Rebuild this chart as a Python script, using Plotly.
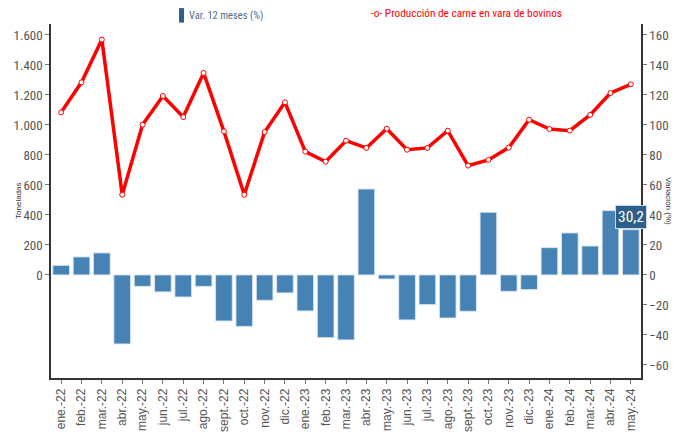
import plotly.graph_objects as go

months = ["ene.", "feb.", "mar.", "abr.", "may.", "jun.", "jul.", "ago.", "sept.", "oct.", "nov.", "dic."]
categories = [f"{m}-{y}" for y in ["22", "23"] for m in months] + [f"{m}-24" for m in months[:5]]

produccion = [1084, 1284, 1569, 535, 1002, 1193, 1053, 1347, 957, 535, 953, 1151,
              822, 755, 895, 847, 975, 835, 847, 962, 729, 767, 849, 1035,
              973, 962, 1067, 1213, 1271]
variacion = [6.4, 12.0, 14.7, -46.0, -7.6, -11.3, -14.7, -7.6, -30.7, -34.3, -16.9, -12.0,
             -24.0, -41.8, -43.3, 57.3, -2.7, -30.0, -19.8, -28.7, -24.2, 41.8, -10.9, -9.8,
             18.2, 28.0, 19.3, 42.9, 30.2]

left_ticks = [0, 200, 400, 600, 800, 1000, 1200, 1400, 1600]
left_ticktext = ["0", "200", "400", "600", "800", "1.000", "1.200", "1.400", "1.600"]
right_ticks = [-60, -40, -20, 0, 20, 40, 60, 80, 100, 120, 140, 160]

narrow = "Roboto Condensed, DejaVu Sans Condensed, Liberation Sans, sans-serif"
regular = "Liberation Sans, Arial, sans-serif"
grey = "#555555"

fig = go.Figure()
fig.add_trace(go.Bar(
    x=categories, y=variacion, yaxis="y2", name="Var. 12 meses (%)",
    marker=dict(color="#4682b4", line=dict(color="rgba(220,230,245,0.9)", width=1)),
    width=0.82,
))
fig.add_trace(go.Scatter(
    x=categories, y=produccion, yaxis="y", mode="lines+markers",
    name="Producción de carne en vara de bovinos",
    line=dict(color="#ff0000", width=3.5),
    marker=dict(symbol="circle", size=5, color="white", line=dict(color="#ff0000", width=1)),
))

axis_common = dict(ticks="outside", ticklen=4, tickcolor="#777777", showline=True,
                   linecolor="#333333", linewidth=1.5, showgrid=False, zeroline=False,
                   automargin=False)

fig.update_layout(
    width=678, height=434,
    margin=dict(l=51, r=37, t=24, b=56),
    paper_bgcolor="white", plot_bgcolor="white",
    showlegend=False,
    xaxis=dict(
        type="category", range=[-0.5, 28.5],
        tickangle=-90, tickfont=dict(family=regular, size=12, color=grey),
        **axis_common,
    ),
    yaxis=dict(
        range=[-687, 1673], tickvals=left_ticks, ticktext=left_ticktext,
        tickfont=dict(family=narrow, size=13, color=grey),
        **axis_common,
    ),
    yaxis2=dict(
        range=[-68.7, 167.3], tickvals=right_ticks, overlaying="y", side="right",
        tickfont=dict(family=narrow, size=13, color=grey),
        **axis_common,
    ),
    annotations=[
        dict(text="Toneladas", xref="paper", yref="paper", x=-0.056, y=0.5, textangle=-90,
             showarrow=False, font=dict(family=regular, size=8, color="#333333"),
             xanchor="center", yanchor="middle"),
        dict(text="Variación (%)", xref="paper", yref="paper", x=1.047, y=0.5, textangle=90,
             showarrow=False, font=dict(family=regular, size=8, color="#333333"),
             xanchor="center", yanchor="middle"),
        dict(text="Var. 12 meses (%)", xref="paper", yref="paper", x=0.2305, y=1.025,
             showarrow=False, xanchor="left", yanchor="middle",
             font=dict(family=narrow, size=10.5, color="#4a6f94")),
        dict(text="-o- Producción de carne en vara de bovinos", xref="paper", yref="paper", x=0.539, y=1.03,
             showarrow=False, xanchor="left", yanchor="middle",
             font=dict(family=narrow, size=11.3, color="#ff0000")),
        dict(text="30,2", x=categories[-1], y=variacion[-1], xref="x", yref="y2",
             showarrow=False, yanchor="bottom", yshift=1,
             bgcolor="#2e5f88", bordercolor="#c8d8e8", borderwidth=1, borderpad=2,
             font=dict(family=narrow, size=15.5, color="white")),
    ],
    shapes=[
        dict(type="rect", xref="paper", yref="paper", x0=0.217, x1=0.2255, y0=1.004, y1=1.045,
             fillcolor="#2e5f88", line=dict(width=0)),
    ],
)

fig.write_html("out.html", config={"displayModeBar": False},
               post_script="document.body.style.margin='0';document.body.style.overflow='hidden';")
